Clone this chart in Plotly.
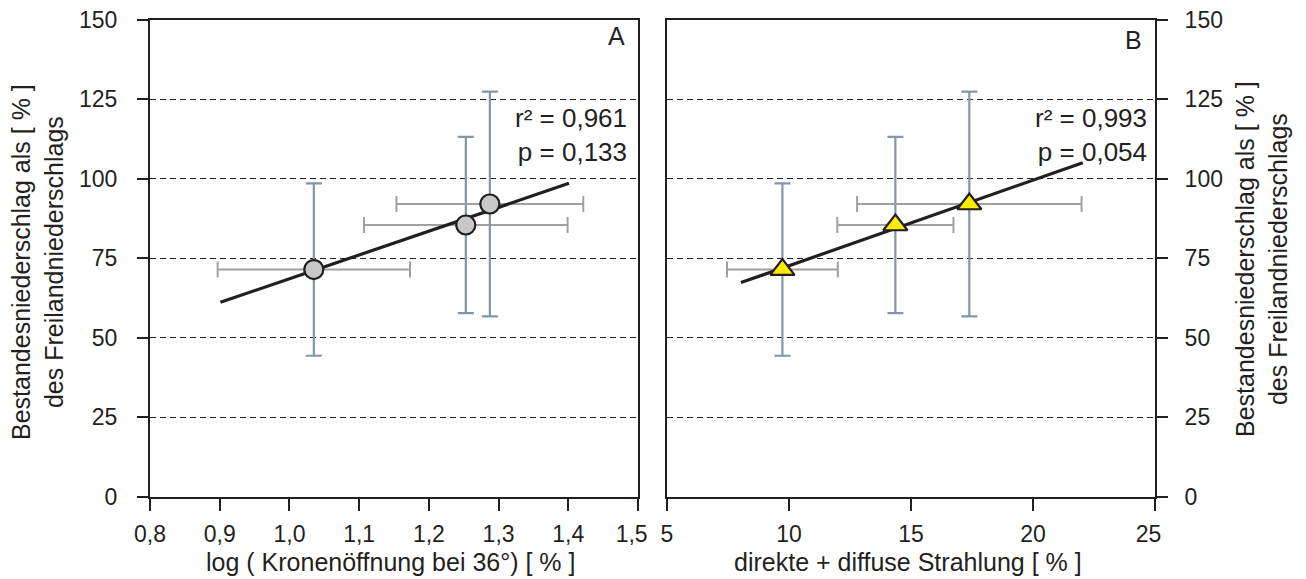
import plotly.graph_objects as go

# ---------------- data ----------------
# Panel A: log(canopy openness at 36°)
a_x = [1.035, 1.253, 1.2875]
a_x_err = [0.138, 0.146, 0.134]
# Panel B: direct + diffuse radiation [%]
b_x = [9.73, 14.36, 17.39]
b_x_err = [2.27, 2.38, 4.60]
# shared y: stand precipitation as % of open-field precipitation
y_vals = [71.4, 85.4, 92.0]
y_err = [27.1, 27.7, 35.3]

# regression lines (end points)
fit_a_x = [0.901, 1.401]
fit_a_y = [61.1, 98.5]
fit_b_x = [8.03, 22.04]
fit_b_y = [67.3, 105.0]

a_ticks = [0.8, 0.9, 1.0, 1.1, 1.2, 1.3, 1.4, 1.5]
a_ticktext = ["0,8", "0,9", "1,0", "1,1", "1,2", "1,3", "1,4", "1,5"]
b_ticks = [5, 10, 15, 20, 25]
b_ticktext = ["5", "10", "15", "20", "25"]
y_ticks = [0, 25, 50, 75, 100, 125, 150]

stats_a = "r² = 0,961<br>p = 0,133"
stats_b = "r² = 0,993<br>p = 0,054"
x_title_a = "log ( Kronenöffnung bei 36°) [ % ]"
x_title_b = "direkte + diffuse Strahlung [ % ]"
y_title = "Bestandesniederschlag als [ % ]<br>des Freilandniederschlags"

# ---------------- style ----------------
W, H = 1306, 579
INK = "#231f20"
VBAR = "#7f97a7"
HBAR = "#a0a0a0"
FONT = "Liberation Sans, Arial, sans-serif"
NB = "\u00a0"

# nudge the crowded labels at the panel junction (display only)
a_labels = list(a_ticktext)
a_labels[-1] = a_labels[-1] + NB * 2
b_labels = list(b_ticktext)
b_labels[-1] = b_labels[-1] + NB * 2

fig = go.Figure()


def add_panel(xs, xerr, fx, fy, xa, ya, symbol, fill, size):
    # error bars (beneath the regression line)
    fig.add_trace(go.Scatter(
        x=xs, y=y_vals, mode="markers", xaxis=xa, yaxis=ya,
        marker=dict(size=1, color="rgba(0,0,0,0)"),
        error_x=dict(type="data", array=xerr, visible=True, color=HBAR,
                     thickness=2, width=8),
        error_y=dict(type="data", array=y_err, visible=True, color=VBAR,
                     thickness=2.2, width=8),
        showlegend=False, hoverinfo="skip"))
    # regression line
    fig.add_trace(go.Scatter(
        x=fx, y=fy, mode="lines", xaxis=xa, yaxis=ya,
        line=dict(color=INK, width=3.2), showlegend=False))
    # markers
    fig.add_trace(go.Scatter(
        x=xs, y=y_vals, mode="markers", xaxis=xa, yaxis=ya,
        marker=dict(symbol=symbol, size=size, color=fill,
                    line=dict(color=INK, width=2.2)),
        showlegend=False))


add_panel(a_x, a_x_err, fit_a_x, fit_a_y, "x", "y", "circle", "#c8c8c8", 19)
add_panel(b_x, b_x_err, fit_b_x, fit_b_y, "x2", "y2", "triangle-up", "#ffec00", 21)

px = lambda v: v / W
py = lambda v: 1 - v / H

y_dom = [py(496.7), py(19.5)]
axis_common = dict(showline=True, linewidth=2, linecolor=INK, mirror=True,
                   ticks="outside", tickwidth=2, tickcolor=INK, automargin=False,
                   zeroline=False, tickfont=dict(family=FONT, size=23, color=INK))
grid = dict(showgrid=True, gridcolor=INK, gridwidth=1.2, griddash="6px,4px")

fig.update_layout(
    template="none",
    width=W, height=H,
    margin=dict(l=0, r=0, t=0, b=0, pad=0),
    paper_bgcolor="white", plot_bgcolor="white",
    font=dict(family=FONT, color=INK),
    xaxis=dict(domain=[px(150), px(638)], range=[0.8, 1.5], anchor="y",
               tickvals=a_ticks, ticktext=a_labels, ticklen=12,
               ticklabelstandoff=4, showgrid=False, **axis_common),
    yaxis=dict(domain=y_dom, range=[0, 150], anchor="x", tickvals=y_ticks,
               ticklen=11, ticklabelstandoff=15, **grid, **axis_common),
    xaxis2=dict(domain=[px(667), px(1155)], range=[5, 25], anchor="y2",
                tickvals=b_ticks, ticktext=b_labels, ticklen=12,
                ticklabelstandoff=4, showgrid=False, **axis_common),
    yaxis2=dict(domain=y_dom, range=[0, 150], anchor="x2", side="right",
                tickvals=y_ticks, ticklen=11, ticklabelstandoff=12,
                **grid, **axis_common),
)

ann_font = dict(family=FONT, size=26, color=INK)
title_font = dict(family=FONT, size=25, color=INK)
annotations = [
    dict(text="A", x=px(627), y=py(36), xanchor="right", yanchor="middle",
         font=dict(family=FONT, size=25, color=INK)),
    dict(text="B", x=px(1144), y=py(40), xanchor="right", yanchor="middle",
         font=dict(family=FONT, size=25, color=INK)),
    dict(text=stats_a, x=px(629), y=py(135), xanchor="right", yanchor="middle",
         align="right", font=ann_font),
    dict(text=stats_b, x=px(1149), y=py(135), xanchor="right", yanchor="middle",
         align="right", font=ann_font),
    dict(text=x_title_a, x=px(391), y=py(562), xanchor="center", yanchor="middle",
         font=title_font),
    dict(text=x_title_b, x=px(908), y=py(562), xanchor="center", yanchor="middle",
         font=title_font),
    dict(text=y_title, x=px(37), y=py(262), xanchor="center", yanchor="middle",
         textangle=-90, align="center", font=title_font),
    dict(text=y_title, x=px(1261), y=py(259), xanchor="center", yanchor="middle",
         textangle=-90, align="center", font=title_font),
]
for a in annotations:
    a.update(xref="paper", yref="paper", showarrow=False)
fig.update_layout(annotations=annotations)

fig.write_html("out.html")
